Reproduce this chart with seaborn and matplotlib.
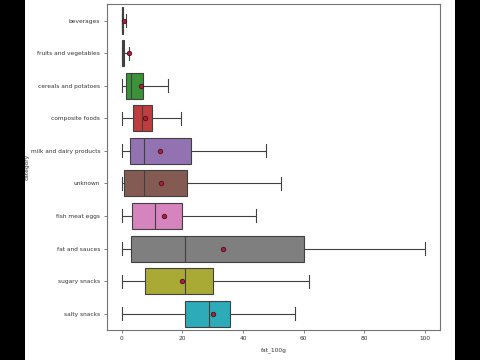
import seaborn as sns
import matplotlib.pyplot as plt
import matplotlib.patches as mpatches
import pandas as pd

#### values (fat_100g per category)
categories = ['beverages', 'fruits and vegetables', 'cereals and potatoes',
              'composite foods', 'milk and dairy products', 'unknown',
              'fish meat eggs', 'fat and sauces', 'sugary snacks', 'salty snacks']
whisk_lo = [0, 0, 0, 0, 0, 0, 0, 0, 0, 0]
q1 = [0, 0, 1.3, 3.7, 2.7, 0.8, 3.5, 3.0, 7.8, 21.0]
median = [0.1, 0.3, 3.0, 6.7, 7.5, 7.5, 11.0, 21.0, 21.0, 28.9]
q3 = [0.5, 0.9, 7.0, 10.1, 22.9, 21.6, 19.9, 60.0, 30.1, 35.7]
whisk_hi = [1.5, 2.5, 15.1, 19.4, 47.7, 52.4, 44.2, 100, 61.9, 57.0]
means = [0.8, 2.3, 6.2, 7.6, 12.6, 13.1, 13.8, 33.4, 19.8, 30.2]

# long table: five summary points per category -> quartiles come out exact
rows = []
for i, c in enumerate(categories):
    for v in (whisk_lo[i], q1[i], median[i], q3[i], whisk_hi[i]):
        rows.append((c, v))
df = pd.DataFrame(rows, columns=['category', 'fat_100g'])
df_mean = pd.DataFrame({'category': categories, 'fat_100g': means})

fig = plt.figure(figsize=(4.8, 3.6), dpi=100, facecolor='black')
# white page between the black side bars
fig.patches.append(mpatches.Rectangle((25 / 480, 0), 430 / 480, 1,
                                      transform=fig.transFigure,
                                      facecolor='white', zorder=-1))
ax = fig.add_axes([0.222, 0.0833, 0.695, 0.905])

sns.boxplot(data=df, x='fat_100g', y='category', hue='category',
            order=categories, hue_order=categories, palette='tab10',
            legend=False, whis=(0, 100), showfliers=False,
            linecolor='0.25', linewidth=0.8, width=0.8, ax=ax)

sns.stripplot(data=df_mean, x='fat_100g', y='category', order=categories,
              jitter=False, marker='o', s=3.2, color='#a8223f',
              edgecolor='#4a0f1a', linewidth=0.6, zorder=10, ax=ax)

ax.set_xlim(-5, 105)
ax.set_xticks([0, 20, 40, 60, 80, 100])
ax.set_xlabel('fat_100g', fontsize=4.2, color='0.2')
ax.set_ylabel('category', fontsize=4.2, color='0.2')
ax.yaxis.set_label_coords(-0.232, 0.5)
ax.tick_params(labelsize=4.2, colors='0.3', length=2.5, width=0.5,
               labelcolor='0.2', pad=2)
for s in ax.spines.values():
    s.set_color('0.45')
    s.set_linewidth(0.8)

fig.savefig('out.png', dpi=100, facecolor=fig.get_facecolor())
